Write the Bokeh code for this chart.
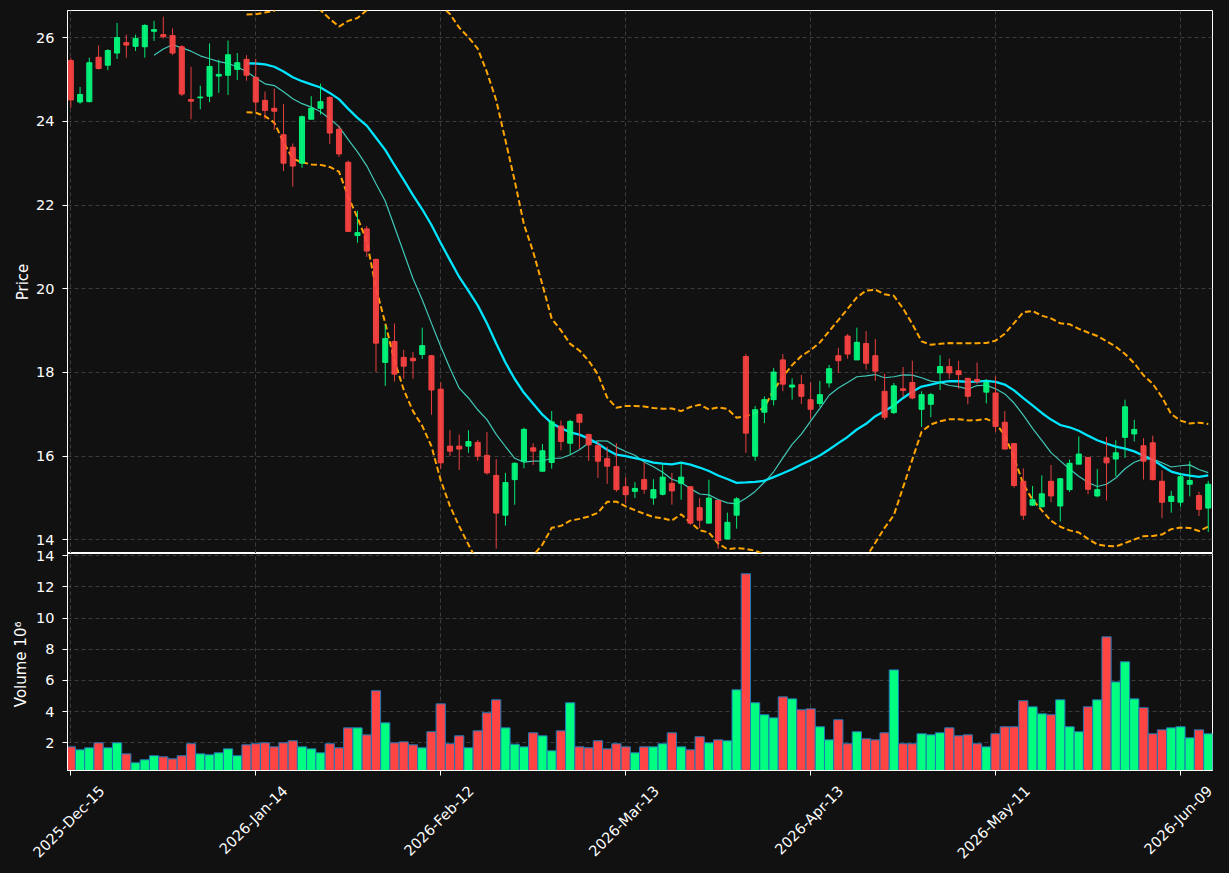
import numpy as np
import pandas as pd
from math import pi
from bokeh.plotting import figure
from bokeh.layouts import column
from bokeh.models import ColumnDataSource, FixedTicker, Range1d, Grid, LinearAxis
from bokeh.embed import file_html
from bokeh.resources import INLINE

# ---------------- data ----------------
opens = [25.45, 24.46, 24.47, 25.53, 25.34, 25.63, 25.88, 25.79, 25.78, 26.15,
         26.07, 26.05, 25.78, 24.52, 24.56, 24.60, 25.08, 25.10, 25.24, 25.48,
         25.05, 24.50, 24.31, 23.68, 23.38, 23.00, 24.05, 24.31, 24.57, 23.81,
         23.02, 21.27, 21.43, 20.70, 18.24, 18.74, 18.36, 18.34, 18.43, 18.40,
         17.60, 16.24, 16.24, 16.24, 16.33, 16.02, 15.54, 14.59, 15.44, 15.88,
         16.20, 15.64, 15.85, 16.72, 16.31, 17.00, 16.52, 16.25, 15.94, 15.75,
         15.27, 15.16, 15.44, 15.00, 15.09, 15.35, 15.35, 15.27, 14.77, 14.40,
         14.94, 14.02, 14.59, 18.38, 16.00, 17.05, 17.35, 18.30, 17.65, 17.71,
         17.35, 17.26, 17.75, 18.40, 18.87, 18.30, 18.69, 18.40, 17.55, 17.04,
         17.61, 17.76, 17.12, 17.24, 17.99, 18.14, 18.04, 17.86, 17.83, 17.53,
         17.51, 16.81, 16.30, 15.40, 14.83, 14.79, 15.40, 14.81, 15.20, 15.81,
         15.97, 15.05, 15.96, 15.93, 16.45, 16.53, 16.25, 16.32, 15.40, 14.92,
         14.90, 15.33, 15.06, 14.76]
highs = [25.52, 24.82, 25.52, 25.81, 25.72, 26.35, 26.07, 26.07, 26.32, 26.40,
         26.50, 26.22, 25.82, 25.30, 24.85, 25.86, 25.47, 25.93, 25.63, 25.58,
         25.49, 24.71, 24.78, 24.41, 23.47, 24.14, 24.60, 24.90, 24.60, 23.90,
         23.06, 21.86, 21.50, 20.72, 19.13, 19.17, 18.54, 18.49, 19.07, 18.42,
         17.76, 16.62, 16.52, 16.62, 16.39, 16.58, 15.93, 15.60, 15.85, 16.68,
         16.31, 16.29, 17.08, 16.85, 16.87, 17.02, 16.53, 16.35, 16.23, 16.31,
         15.50, 15.38, 15.85, 15.45, 15.81, 15.60, 15.85, 15.29, 15.00, 15.44,
         14.95, 14.65, 15.02, 18.44, 17.20, 17.43, 18.11, 18.44, 17.86, 17.94,
         17.76, 17.80, 18.18, 18.59, 18.92, 19.07, 18.99, 18.80, 17.97, 17.75,
         18.13, 18.28, 17.55, 17.51, 18.41, 18.33, 18.28, 17.87, 18.24, 17.84,
         17.91, 17.08, 16.30, 15.71, 15.29, 15.54, 15.79, 15.48, 15.92, 16.47,
         15.98, 15.69, 16.46, 16.38, 17.35, 16.87, 16.43, 16.49, 15.66, 15.17,
         15.60, 15.88, 15.15, 15.41]
lows = [24.32, 24.42, 24.45, 25.24, 25.22, 25.49, 25.52, 25.68, 25.52, 25.92,
        25.98, 25.58, 24.60, 24.05, 24.29, 24.46, 24.68, 24.63, 24.99, 24.97,
        24.24, 24.05, 23.80, 22.81, 22.44, 22.89, 24.05, 24.16, 23.46, 23.15,
        21.36, 21.10, 20.76, 18.01, 17.68, 17.78, 17.85, 17.85, 18.32, 16.99,
        15.70, 16.00, 15.67, 16.08, 15.89, 15.56, 13.79, 14.34, 14.84, 15.71,
        15.79, 15.64, 15.70, 16.14, 16.03, 16.17, 15.89, 15.48, 15.34, 15.15,
        14.87, 15.00, 15.10, 14.84, 15.06, 14.84, 14.96, 14.36, 14.28, 14.40,
        13.79, 14.02, 14.27, 16.08, 15.89, 16.79, 17.21, 17.55, 17.35, 17.25,
        16.89, 17.18, 17.64, 17.99, 18.33, 18.30, 18.07, 17.80, 16.87, 17.01,
        17.41, 17.36, 16.70, 16.93, 17.58, 17.85, 17.61, 17.24, 17.72, 17.26,
        16.58, 16.17, 15.25, 14.48, 14.81, 14.79, 14.90, 14.44, 15.15, 15.81,
        15.09, 15.02, 14.94, 15.52, 15.96, 16.35, 15.44, 15.42, 14.52, 14.65,
        14.79, 15.04, 14.57, 14.19]
closes = [24.51, 24.64, 25.40, 25.26, 25.69, 26.00, 25.82, 25.98, 26.29, 26.19,
          26.02, 25.63, 24.65, 24.48, 24.58, 25.31, 25.12, 25.59, 25.40, 25.10,
          24.46, 24.26, 24.24, 23.00, 22.93, 24.11, 24.31, 24.47, 23.72, 23.22,
          21.37, 21.34, 20.90, 18.70, 18.81, 17.96, 18.15, 18.28, 18.64, 17.58,
          15.84, 16.12, 16.17, 16.35, 16.00, 15.60, 14.64, 15.37, 15.83, 16.64,
          16.12, 16.13, 16.82, 16.35, 16.83, 16.81, 16.27, 15.88, 15.76, 15.20,
          15.08, 15.23, 15.21, 15.20, 15.50, 15.17, 15.50, 14.40, 14.47, 15.00,
          13.98, 14.42, 14.98, 16.55, 17.11, 17.35, 18.01, 17.72, 17.70, 17.43,
          17.12, 17.47, 18.09, 18.28, 18.44, 18.72, 18.22, 18.03, 16.93, 17.68,
          17.57, 17.39, 17.47, 17.47, 18.14, 17.99, 17.95, 17.43, 17.78, 17.76,
          16.71, 16.17, 15.30, 14.59, 14.96, 15.10, 15.05, 15.46, 15.83, 16.05,
          15.21, 15.20, 15.84, 16.08, 17.18, 16.64, 15.88, 15.44, 14.90, 15.04,
          15.51, 15.42, 14.73, 15.33]
volumes_m = [1.74, 1.55, 1.68, 2.00, 1.68, 2.00, 1.29, 0.72, 0.91, 1.17,
             1.10, 0.97, 1.17, 1.94, 1.29, 1.23, 1.36, 1.61, 1.17, 1.87,
             1.94, 2.00, 1.74, 2.00, 2.13, 1.74, 1.61, 1.36, 1.94, 1.68,
             2.96, 2.96, 2.51, 5.34, 3.28, 2.00, 2.06, 1.87, 1.68, 2.71,
             4.50, 1.94, 2.45, 1.68, 2.77, 3.93, 4.76, 2.96, 1.91, 1.74,
             2.64, 2.45, 1.49, 2.77, 4.57, 1.74, 1.68, 2.13, 1.61, 1.94,
             1.74, 1.36, 1.74, 1.74, 1.94, 2.64, 1.74, 1.55, 2.39, 2.00,
             2.19, 2.13, 5.40, 12.85, 4.57, 3.80, 3.60, 4.95, 4.82, 4.12,
             4.18, 3.03, 2.19, 3.48, 1.94, 2.71, 2.26, 2.19, 2.64, 6.68,
             1.94, 1.94, 2.58, 2.51, 2.64, 2.96, 2.45, 2.51, 1.94, 1.74,
             2.58, 3.03, 3.03, 4.70, 4.31, 3.86, 3.80, 4.76, 3.03, 2.71,
             4.31, 4.76, 8.80, 5.91, 7.20, 4.82, 4.25, 2.58, 2.83, 2.96,
             3.03, 2.32, 2.83, 2.58]
tick_index = [0, 20, 40, 60, 80, 100, 120]
tick_labels = ["2025-Dec-15", "2026-Jan-14", "2026-Feb-12", "2026-Mar-13",
               "2026-Apr-13", "2026-May-11", "2026-Jun-09"]
price_ticks = [14, 16, 18, 20, 22, 24, 26]
volume_ticks = [2, 4, 6, 8, 10, 12, 14]

# ---------------- derived ----------------
n = len(closes)
x = np.arange(n)
o = np.array(opens); h = np.array(highs); l = np.array(lows); c = np.array(closes)
UP = "#00ff80"
DOWN = "#ff4444"
cols = [UP if cc >= oo else DOWN for oo, cc in zip(o, c)]
cs = pd.Series(c)
ma10 = cs.rolling(10).mean()
ma20 = cs.rolling(20).mean()
sd20 = cs.rolling(20).std()
bb_up = ma20 + 2 * sd20
bb_lo = ma20 - 2 * sd20

src = ColumnDataSource(dict(x=x, o=o, h=h, l=l, c=c,
                            top=np.maximum(o, c), bot=np.minimum(o, c),
                            col=cols, vol=np.array(volumes_m),
                            ma10=ma10.values, ma20=ma20.values,
                            bbu=bb_up.values, bbl=bb_lo.values))

BG = "#111111"
GRID = "#3c3c3c"
FONT = "DejaVu Sans"
FS = 14.5
X0, X1 = -0.36, 123.46
FRAME_W = 1229 - 67 - 17
PXU = FRAME_W / (X1 - X0)
xr = Range1d(X0, X1)

p = figure(width=1229, height=553, x_range=xr, y_range=Range1d(13.675, 26.647),
           output_backend="svg", toolbar_location=None, x_axis_location=None,
           min_border_left=67, min_border_right=17, min_border_top=10, min_border_bottom=0,
           background_fill_color=BG, border_fill_color=BG)
p.outline_line_color = "white"
p.outline_line_width = 1
xgrids = [g for g in p.grid if g.dimension == 0]
if not xgrids:
    g0 = Grid(dimension=0)
    p.add_layout(g0)
    xgrids = [g0]
for g in xgrids:
    g.ticker = FixedTicker(ticks=tick_index)
for g in p.grid:
    g.grid_line_color = GRID
    g.grid_line_dash = "4 3"
    g.grid_line_width = 1
p.yaxis.ticker = FixedTicker(ticks=price_ticks)
p.yaxis.axis_label = "Price"

# bands & averages
p.line("x", "bbu", source=src, color="#ffa500", line_width=2.0, line_dash="6 3")
p.line("x", "bbl", source=src, color="#ffa500", line_width=2.0, line_dash="6 3")
p.line("x", "ma10", source=src, color="#40c8b8", line_width=1.2)
p.line("x", "ma20", source=src, color="#00e5ff", line_width=2.3)

# candles
p.segment(x0="x", y0="l", x1="x", y1="h", source=src, line_color="col", line_width=1, line_alpha=0.9)
p.vbar(x="x", width=0.55, top="top", bottom="bot", source=src,
       fill_color="col", line_color="col", fill_alpha=0.9, line_alpha=0.9, line_width=1)

OVER = 10
v = figure(width=1229, height=320 + OVER, x_range=xr, y_range=Range1d(0.222, 14.15),
           output_backend="svg", toolbar_location=None,
           min_border_left=67, min_border_right=17, min_border_top=OVER, min_border_bottom=103,
           background_fill_color=BG, border_fill_color=None)
v.outline_line_color = "white"
v.outline_line_width = 1
v.vbar(x="x", width=1.0, top="vol", bottom=0, source=src,
       fill_color="col", line_color="#1f77b4", line_width=1)
v.xaxis.ticker = FixedTicker(ticks=tick_index)
v.xgrid.ticker = FixedTicker(ticks=tick_index)
v.yaxis.ticker = FixedTicker(ticks=volume_ticks)
v.yaxis.axis_label = "Volume  10\u2076"
for g in v.grid:
    g.grid_line_color = GRID
    g.grid_line_dash = "4 3"

for ax in (p.yaxis[0], v.yaxis[0], v.xaxis[0]):
    ax.axis_line_color = "white"
    ax.major_tick_line_color = "white"
    ax.minor_tick_line_color = None
    ax.major_tick_out = 5
    ax.major_tick_in = 0
    ax.major_label_standoff = 8
    ax.major_label_text_font = FONT
    ax.major_label_text_font_size = f"{FS}px"
    ax.major_label_text_color = "white"
    ax.axis_label_text_font = FONT
    ax.axis_label_text_font_size = "15px"
    ax.axis_label_text_font_style = "normal"
    ax.axis_label_text_color = "white"
p.yaxis[0].axis_label_standoff = 1
v.yaxis[0].axis_label_standoff = 3

# x axis: tick marks only (labels drawn by a second axis so they sit centred on the ticks)
xa = v.xaxis[0]
xa.major_label_text_font_size = "0px"
xa.major_label_text_color = None
xa.major_label_standoff = 0

EM = {"0": .636, "1": .636, "2": .636, "3": .636, "4": .636, "5": .636, "6": .636,
      "7": .636, "8": .636, "9": .636, "-": .361, "D": .770, "e": .615, "c": .550,
      "J": .295, "a": .613, "n": .634, "F": .575, "b": .635, "M": .863, "r": .411,
      "A": .684, "p": .635, "y": .592, "u": .634}
lab_pos = []
for ti, tl in zip(tick_index, tick_labels):
    L = sum(EM.get(ch, .6) for ch in tl) * FS
    lab_pos.append(round(ti + (L * 0.35355 - 2) / PXU, 4))
lab_axis = LinearAxis(ticker=FixedTicker(ticks=lab_pos),
                      major_label_overrides={pos: tl for pos, tl in zip(lab_pos, tick_labels)},
                      major_label_orientation=pi / 4,
                      major_tick_out=0, major_tick_in=0,
                      major_tick_line_color=None, minor_tick_line_color=None,
                      axis_line_color=None, major_label_standoff=13,
                      major_label_text_font=FONT, major_label_text_font_size=f"{FS}px",
                      major_label_text_color="white")
v.add_layout(lab_axis, "below")

try:
    v.margin = (-OVER, 0, 0, 0)
except Exception:
    v.styles = {"margin-top": f"-{OVER}px"}

layout = column(p, v, spacing=0)
layout.styles = {"background-color": BG}
with open("out.html", "w") as f:
    f.write(file_html(layout, INLINE))
